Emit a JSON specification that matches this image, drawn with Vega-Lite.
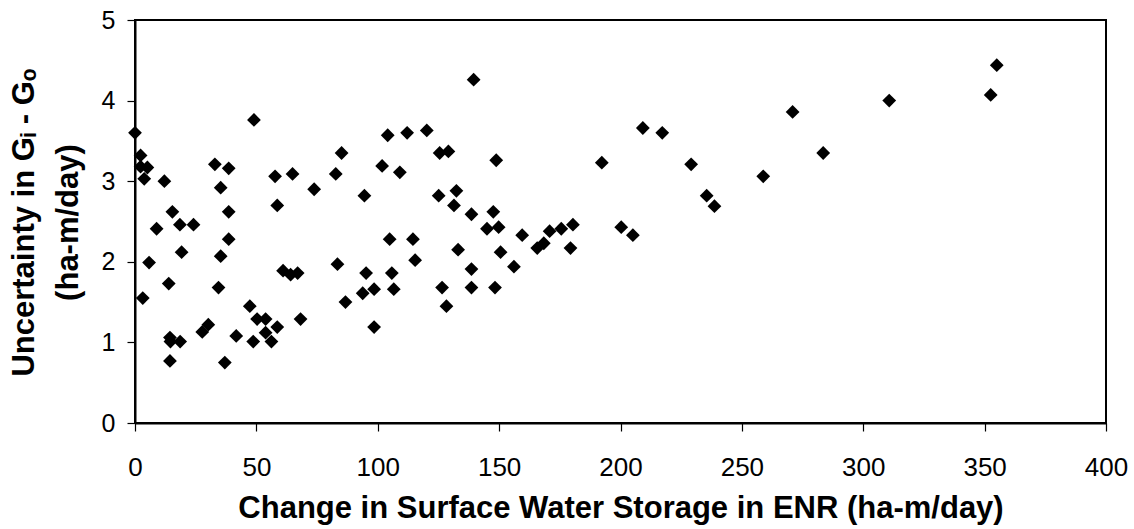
{
  "$schema": "https://vega.github.io/schema/vega-lite/v6.json",
  "width": 971,
  "height": 403,
  "autosize": "none",
  "padding": {"left": 135, "top": 20, "right": 28, "bottom": 106},
  "background": "white",
  "config": {
    "view": {"stroke": "black", "strokeWidth": 2},
    "font": "Liberation Sans"
  },
  "data": {
    "values": [
      {"x": 0, "y": 3.60}, {"x": 2.3, "y": 3.32}, {"x": 2.3, "y": 3.18}, {"x": 5.1, "y": 3.17},
      {"x": 3.8, "y": 3.03}, {"x": 3.2, "y": 1.55}, {"x": 5.8, "y": 1.99}, {"x": 8.9, "y": 2.41},
      {"x": 12.1, "y": 3.00}, {"x": 15.4, "y": 2.62}, {"x": 18.5, "y": 2.46}, {"x": 24.1, "y": 2.46},
      {"x": 19.2, "y": 2.12}, {"x": 13.9, "y": 1.73}, {"x": 14.4, "y": 1.06}, {"x": 14.6, "y": 1.01},
      {"x": 18.6, "y": 1.01}, {"x": 14.4, "y": 0.77}, {"x": 27.7, "y": 1.13}, {"x": 30.2, "y": 1.22},
      {"x": 32.9, "y": 3.21}, {"x": 38.6, "y": 3.16}, {"x": 35.3, "y": 2.92}, {"x": 38.6, "y": 2.62},
      {"x": 38.6, "y": 2.28}, {"x": 35.3, "y": 2.07}, {"x": 34.4, "y": 1.68}, {"x": 37.0, "y": 0.75},
      {"x": 41.7, "y": 1.08}, {"x": 47.3, "y": 1.45}, {"x": 48.7, "y": 1.01}, {"x": 49.0, "y": 3.76},
      {"x": 50.3, "y": 1.29}, {"x": 53.8, "y": 1.29}, {"x": 53.8, "y": 1.12}, {"x": 56.2, "y": 1.01},
      {"x": 58.6, "y": 1.19}, {"x": 57.7, "y": 3.06}, {"x": 58.6, "y": 2.70}, {"x": 61.0, "y": 1.89},
      {"x": 64.1, "y": 1.84}, {"x": 67.0, "y": 1.86}, {"x": 64.9, "y": 3.09}, {"x": 68.2, "y": 1.29},
      {"x": 73.8, "y": 2.90}, {"x": 82.7, "y": 3.09}, {"x": 83.4, "y": 1.97}, {"x": 85.1, "y": 3.35},
      {"x": 86.7, "y": 1.50}, {"x": 94.5, "y": 2.82}, {"x": 95.2, "y": 1.86}, {"x": 93.8, "y": 1.61},
      {"x": 98.5, "y": 1.66}, {"x": 98.5, "y": 1.19}, {"x": 101.8, "y": 3.19}, {"x": 104.1, "y": 3.57},
      {"x": 104.9, "y": 2.28}, {"x": 105.8, "y": 1.86}, {"x": 106.6, "y": 1.66}, {"x": 109.1, "y": 3.11},
      {"x": 112.1, "y": 3.60}, {"x": 114.5, "y": 2.28}, {"x": 115.4, "y": 2.02},
      {"x": 120.2, "y": 3.63}, {"x": 125.5, "y": 3.35}, {"x": 129.1, "y": 3.37}, {"x": 139.5, "y": 4.26},
      {"x": 148.8, "y": 3.26}, {"x": 125.1, "y": 2.82}, {"x": 132.4, "y": 2.88}, {"x": 131.4, "y": 2.70},
      {"x": 138.6, "y": 2.59}, {"x": 147.6, "y": 2.62}, {"x": 145.0, "y": 2.41}, {"x": 149.8, "y": 2.43},
      {"x": 159.5, "y": 2.33}, {"x": 165.7, "y": 2.17}, {"x": 168.4, "y": 2.23}, {"x": 170.8, "y": 2.38},
      {"x": 175.6, "y": 2.41}, {"x": 180.4, "y": 2.46}, {"x": 179.4, "y": 2.17}, {"x": 133.1, "y": 2.15},
      {"x": 150.6, "y": 2.12}, {"x": 138.6, "y": 1.91}, {"x": 156.1, "y": 1.94}, {"x": 126.5, "y": 1.68},
      {"x": 138.6, "y": 1.68}, {"x": 148.3, "y": 1.68}, {"x": 128.3, "y": 1.45},
      {"x": 192.3, "y": 3.23}, {"x": 209.2, "y": 3.66}, {"x": 217.2, "y": 3.60}, {"x": 229.1, "y": 3.21},
      {"x": 200.3, "y": 2.43}, {"x": 205.1, "y": 2.33},
      {"x": 235.5, "y": 2.82}, {"x": 238.7, "y": 2.69}, {"x": 258.8, "y": 3.06}, {"x": 270.9, "y": 3.86},
      {"x": 283.5, "y": 3.35}, {"x": 310.7, "y": 4.00}, {"x": 352.5, "y": 4.07}, {"x": 355.0, "y": 4.44}
    ]
  },
  "mark": {"type": "point", "shape": "diamond", "filled": true, "color": "black", "opacity": 1, "size": 190},
  "encoding": {
    "x": {
      "field": "x", "type": "quantitative",
      "scale": {"domain": [0, 400], "nice": false, "zero": false},
      "axis": {
        "title": "Change in Surface Water Storage in ENR (ha-m/day)",
        "values": [0, 50, 100, 150, 200, 250, 300, 350, 400],
        "grid": false,
        "domainColor": "black", "domainWidth": 2,
        "tickColor": "black", "tickWidth": 1.2, "tickSize": 8,
        "labelFont": "Liberation Sans", "labelFontSize": 26, "labelColor": "black",
        "labelBaseline": "alphabetic", "labelPadding": 44,
        "labelFlush": false,
        "titleFont": "Liberation Sans", "titleFontSize": 31, "titleFontWeight": "bold", "titleColor": "black",
        "titleBaseline": "alphabetic", "titleY": 94
      }
    },
    "y": {
      "field": "y", "type": "quantitative",
      "scale": {"domain": [0, 5], "nice": false},
      "axis": {
        "title": ["Uncertainty in Gᵢ - Gₒ", "(ha-m/day)"],
        "values": [0, 1, 2, 3, 4, 5],
        "grid": false,
        "domainColor": "black", "domainWidth": 2,
        "tickColor": "black", "tickWidth": 1.2, "tickSize": 8,
        "labelFont": "Liberation Sans", "labelFontSize": 25, "labelColor": "black", "labelPadding": 12,
        "labelFlush": false,
        "titleFont": "Liberation Sans", "titleFontSize": 31, "titleFontWeight": "bold", "titleColor": "black",
        "titleBaseline": "alphabetic", "titleLineHeight": 44, "titleAlign": "center", "titleAngle": -90,
        "titleX": -102, "titleY": 202
      }
    }
  }
}
